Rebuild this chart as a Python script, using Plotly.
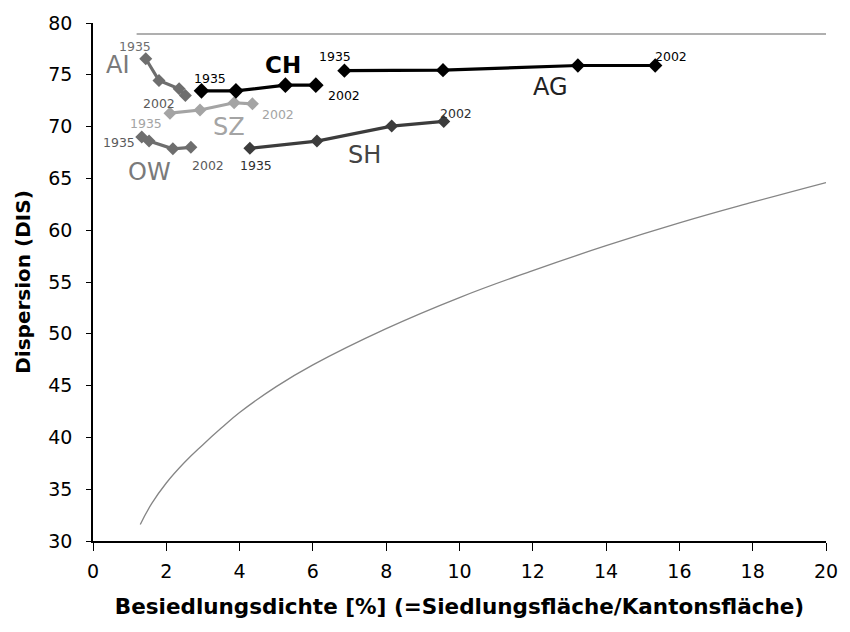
import plotly.graph_objects as go

# Settlement density [%] and dispersion (DIS) per canton, 1935 -> 2002
ai_x = [1.44, 1.80, 2.35, 2.52]
ai_y = [76.55, 74.45, 73.65, 73.0]
sz_x = [2.10, 2.92, 3.85, 4.35]
sz_y = [71.3, 71.6, 72.3, 72.2]
ow_x = [1.33, 1.53, 2.18, 2.67]
ow_y = [69.0, 68.6, 67.85, 68.0]
ch_x = [2.96, 3.90, 5.25, 6.08]
ch_y = [73.45, 73.45, 74.0, 74.0]
sh_x = [4.28, 6.11, 8.15, 9.57]
sh_y = [67.9, 68.6, 70.05, 70.5]
ag_x = [6.86, 9.55, 13.23, 15.34]
ag_y = [75.4, 75.45, 75.9, 75.9]

# Reference curves
upper_x = [1.19, 20.0]
upper_y = [78.94, 78.94]
lower_x = [1.29, 1.6, 2.0, 2.5, 3.0, 3.5, 4.0, 5.0, 6.0, 8.0, 10.0, 12.0, 14.0, 16.0, 18.0, 20.0]
lower_y = [31.6, 33.6, 35.6, 37.6, 39.3, 40.9, 42.4, 44.9, 47.0, 50.5, 53.5, 56.1, 58.5, 60.7, 62.7, 64.6]

FONT = "DejaVu Sans, Arial, sans-serif"

fig = go.Figure()

fig.add_trace(go.Scatter(x=upper_x, y=upper_y, mode="lines",
                         line=dict(color="#606060", width=1.2), hoverinfo="skip"))
fig.add_trace(go.Scatter(x=lower_x, y=lower_y, mode="lines", line_shape="spline",
                         line=dict(color="#858585", width=1.3, smoothing=1.3), hoverinfo="skip"))

series = [
    ("AI", ai_x, ai_y, "#6e6e6e", 10),
    ("SZ", sz_x, sz_y, "#a4a4a4", 10),
    ("OW", ow_x, ow_y, "#6e6e6e", 10),
    ("SH", sh_x, sh_y, "#3c3c3c", 10),
    ("CH", ch_x, ch_y, "#000000", 12),
    ("AG", ag_x, ag_y, "#000000", 11),
]
for name, xs, ys, col, ms in series:
    fig.add_trace(go.Scatter(
        x=xs, y=ys, mode="lines+markers", name=name,
        line=dict(color=col, width=3.2),
        marker=dict(symbol="diamond", size=ms, color=col),
    ))

# Labels: (text, x, y, size, colour, bold)
labels = [
    ("AI", 0.68, 75.9, 24, "#7a7a7a", False),
    ("1935", 1.15, 77.76, 12.5, "#6e6e6e", False),
    ("2002", 1.80, 72.2, 12.5, "#5a5a5a", False),
    ("1935", 1.44, 70.3, 12.5, "#a4a4a4", False),
    ("SZ", 3.72, 69.97, 24, "#a4a4a4", False),
    ("2002", 5.05, 71.15, 12.5, "#a4a4a4", False),
    ("1935", 0.72, 68.46, 12.5, "#5a5a5a", False),
    ("OW", 1.53, 65.6, 24, "#7a7a7a", False),
    ("2002", 3.15, 66.22, 12.5, "#5a5a5a", False),
    ("1935", 3.2, 74.68, 12.5, "#000000", False),
    ("CH", 5.19, 75.9, 23, "#000000", True),
    ("2002", 6.85, 73.02, 12.5, "#000000", False),
    ("1935", 4.44, 66.29, 12.5, "#2e2e2e", False),
    ("SH", 7.42, 67.25, 24, "#444444", False),
    ("2002", 9.91, 71.25, 12.5, "#2e2e2e", False),
    ("1935", 6.6, 76.77, 12.5, "#000000", False),
    ("AG", 12.48, 73.8, 24, "#222222", False),
    ("2002", 15.77, 76.77, 12.5, "#000000", False),
]
for txt, x, y, sz, col, bold in labels:
    fig.add_annotation(x=x, y=y, text=f"<b>{txt}</b>" if bold else txt,
                       showarrow=False, xanchor="center", yanchor="middle",
                       font=dict(family=FONT, size=sz, color=col))

fig.update_layout(
    width=850, height=632,
    margin=dict(l=93, r=17, t=21, b=91),
    paper_bgcolor="white", plot_bgcolor="white",
    showlegend=False,
    font=dict(family=FONT, size=19, color="#000000"),
    xaxis=dict(
        range=[0, 20], tickmode="array", tickvals=list(range(0, 21, 2)),
        showgrid=False, zeroline=False, showline=True, linecolor="black", linewidth=1.5,
        ticks="outside", ticklen=8, tickcolor="black", tickwidth=1,
        ticklabelstandoff=4,
        tickfont=dict(family=FONT, size=19),
        title=dict(text="<b>Besiedlungsdichte [%] (=Siedlungsfläche/Kantonsfläche)</b>",
                   font=dict(family=FONT, size=21.5), standoff=18),
    ),
    yaxis=dict(
        range=[30, 80], tickmode="array", tickvals=list(range(30, 81, 5)),
        showgrid=False, zeroline=False, showline=True, linecolor="black", linewidth=1.5,
        ticks="outside", ticklen=5, tickcolor="black", tickwidth=1,
        ticklabelstandoff=10,
        tickfont=dict(family=FONT, size=19),
        title=dict(text="<b>Dispersion (DIS)</b>", font=dict(family=FONT, size=20), standoff=12),
    ),
)

fig.write_html("out.html")
